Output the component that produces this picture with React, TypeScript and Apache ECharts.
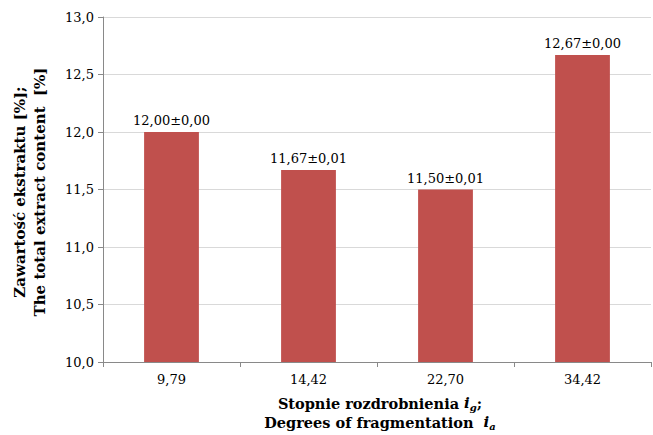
import React, { useEffect, useRef } from "react";
import * as echarts from "echarts";

const categories = ["9,79", "14,42", "22,70", "34,42"];
const values = [12.0, 11.67, 11.5, 12.67];
const errors = ["0,00", "0,01", "0,01", "0,00"];
const yTicks = { min: 10, max: 13, interval: 0.5 };

const FONT = "'DejaVu Serif', 'Liberation Serif', serif";

export default function App() {
  const ref = useRef<HTMLDivElement>(null);
  useEffect(() => {
    const chart = echarts.init(ref.current!, null, { renderer: "svg" });
    chart.setOption({
      animation: false,
      backgroundColor: "#fff",
      grid: { left: 103, right: 2, top: 17, bottom: 73 },
      xAxis: {
        type: "category",
        data: categories,
        boundaryGap: true,
        axisLine: { lineStyle: { color: "#898989", width: 1 } },
        axisTick: { show: true, length: 5, lineStyle: { color: "#898989" } },
        axisLabel: { fontFamily: FONT, fontSize: 13, color: "#000", margin: 11 },
      },
      yAxis: {
        type: "value",
        min: yTicks.min,
        max: yTicks.max,
        interval: yTicks.interval,
        axisLine: { show: true, lineStyle: { color: "#898989", width: 1 } },
        axisTick: { show: true, length: 5, lineStyle: { color: "#898989" } },
        splitLine: { lineStyle: { color: "#d9d9d9", width: 1 } },
        axisLabel: {
          fontFamily: FONT,
          fontSize: 13,
          color: "#000",
          margin: 9,
          formatter: (v: number) => v.toFixed(1).replace(".", ","),
        },
      },
      series: [
        {
          type: "bar",
          data: values,
          barWidth: "40%",
          itemStyle: { color: "#C0504D" },
          label: {
            show: true,
            position: "top",
            distance: 5,
            fontFamily: FONT,
            fontSize: 13,
            color: "#000",
            formatter: (p: any) =>
              values[p.dataIndex].toFixed(2).replace(".", ",") + "±" + errors[p.dataIndex],
          },
        },
      ],
      graphic: [
        {
          type: "text",
          x: 20,
          y: 192,
          rotation: Math.PI / 2,
          style: {
            text: "Zawartość ekstraktu [%];",
            font: `bold 15px ${FONT}`,
            fill: "#000",
            align: "center",
            verticalAlign: "middle",
          },
        },
        {
          type: "text",
          x: 40,
          y: 192,
          rotation: Math.PI / 2,
          style: {
            text: "The total extract content  [%]",
            font: `bold 15px ${FONT}`,
            fill: "#000",
            align: "center",
            verticalAlign: "middle",
          },
        },
        {
          type: "text",
          x: 380,
          y: 403,
          style: {
            text: "{b|Stopnie rozdrobnienia }{i|i}{s|g}{b|;}",
            align: "center",
            verticalAlign: "middle",
            rich: {
              b: { font: `bold 14.5px ${FONT}`, fill: "#000" },
              i: { font: `italic bold 15px ${FONT}`, fill: "#000" },
              s: { font: `italic bold 10px ${FONT}`, fill: "#000", padding: [9, 0, 0, 0] },
            },
          },
        },
        {
          type: "text",
          x: 380,
          y: 422,
          style: {
            text: "{b|Degrees of fragmentation  }{i|i}{s|a}",
            align: "center",
            verticalAlign: "middle",
            rich: {
              b: { font: `bold 14.5px ${FONT}`, fill: "#000" },
              i: { font: `italic bold 15px ${FONT}`, fill: "#000" },
              s: { font: `italic bold 10px ${FONT}`, fill: "#000", padding: [9, 0, 0, 0] },
            },
          },
        },
      ],
    });
    return () => chart.dispose();
  }, []);
  return <div ref={ref} style={{ width: 653, height: 435, position: "absolute", left: 0, top: 0 }} />;
}
